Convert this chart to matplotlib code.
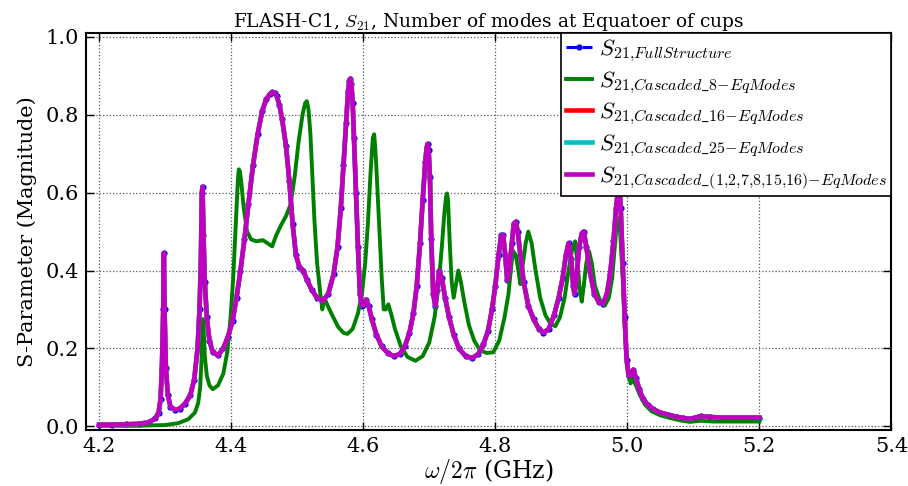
import matplotlib
matplotlib.use("Agg")
import matplotlib.pyplot as plt
import numpy as np

# ---------------- data ----------------
freq_full = [4.200, 4.220, 4.240, 4.260, 4.275, 4.285, 4.290, 4.293, 4.295, 4.297,
             4.298, 4.299, 4.301, 4.304, 4.308, 4.315, 4.322, 4.330, 4.338, 4.344,
             4.349, 4.352, 4.354, 4.3555, 4.3565, 4.358, 4.360, 4.363, 4.367, 4.372,
             4.380, 4.388, 4.395, 4.402, 4.408, 4.414, 4.420, 4.426, 4.433, 4.440,
             4.447, 4.453, 4.459, 4.4625, 4.466, 4.469, 4.473, 4.477, 4.483, 4.488,
             4.493, 4.498, 4.503, 4.509, 4.515, 4.522, 4.530, 4.539, 4.547, 4.555,
             4.561, 4.566, 4.570, 4.574, 4.577, 4.579, 4.5805, 4.582, 4.584, 4.586,
             4.589, 4.592, 4.595, 4.598, 4.601, 4.604, 4.608, 4.613, 4.620, 4.628,
             4.637, 4.646, 4.655, 4.663, 4.670, 4.676, 4.681, 4.686, 4.690, 4.694,
             4.696, 4.6975, 4.699, 4.701, 4.703, 4.706, 4.709, 4.712, 4.715, 4.719,
             4.724, 4.730, 4.737, 4.745, 4.755, 4.765, 4.774, 4.782, 4.789, 4.795,
             4.800, 4.805, 4.809, 4.812, 4.815, 4.818, 4.821, 4.825, 4.828, 4.831,
             4.834, 4.838, 4.843, 4.850, 4.858, 4.866, 4.873, 4.881, 4.889, 4.896,
             4.902, 4.907, 4.911, 4.915, 4.918, 4.920, 4.923, 4.927, 4.931, 4.934,
             4.938, 4.943, 4.950, 4.957, 4.963, 4.969, 4.974, 4.979, 4.983, 4.986,
             4.988, 4.990, 4.993, 4.996, 4.999, 5.002, 5.005, 5.009, 5.013, 5.018,
             5.024, 5.031, 5.039, 5.050, 5.061, 5.075, 5.085, 5.095, 5.103, 5.112,
             5.125, 5.140, 5.160, 5.180, 5.200]
s21_full = [0.004, 0.004, 0.005, 0.006, 0.010, 0.020, 0.035, 0.070, 0.150, 0.300,
            0.445, 0.300, 0.150, 0.080, 0.050, 0.042, 0.045, 0.058, 0.080, 0.120,
            0.200, 0.300, 0.420, 0.600, 0.615, 0.490, 0.370, 0.280, 0.220, 0.190,
            0.182, 0.200, 0.230, 0.270, 0.330, 0.400, 0.480, 0.570, 0.670, 0.750,
            0.810, 0.840, 0.854, 0.858, 0.856, 0.848, 0.825, 0.790, 0.720, 0.630,
            0.520, 0.440, 0.410, 0.400, 0.375, 0.350, 0.330, 0.322, 0.340, 0.390,
            0.460, 0.560, 0.670, 0.780, 0.860, 0.888, 0.893, 0.880, 0.830, 0.740,
            0.600, 0.460, 0.340, 0.310, 0.315, 0.325, 0.310, 0.275, 0.235, 0.205,
            0.188, 0.180, 0.185, 0.205, 0.240, 0.290, 0.360, 0.470, 0.580, 0.680,
            0.715, 0.725, 0.710, 0.640, 0.480, 0.340, 0.310, 0.350, 0.400, 0.380,
            0.330, 0.280, 0.235, 0.200, 0.180, 0.175, 0.185, 0.210, 0.245, 0.300,
            0.360, 0.440, 0.490, 0.490, 0.440, 0.375, 0.400, 0.470, 0.520, 0.525,
            0.500, 0.440, 0.370, 0.310, 0.275, 0.250, 0.240, 0.250, 0.285, 0.330,
            0.380, 0.440, 0.470, 0.430, 0.360, 0.340, 0.380, 0.460, 0.495, 0.500,
            0.460, 0.400, 0.340, 0.318, 0.315, 0.340, 0.390, 0.475, 0.560, 0.610,
            0.620, 0.560, 0.420, 0.280, 0.170, 0.130, 0.130, 0.145, 0.125, 0.095,
            0.070, 0.055, 0.044, 0.035, 0.030, 0.024, 0.021, 0.019, 0.022, 0.026,
            0.024, 0.022, 0.022, 0.022, 0.022]

freq_8 = [4.200, 4.250, 4.300, 4.320, 4.335, 4.345, 4.350, 4.353, 4.355, 4.3565,
          4.358, 4.360, 4.363, 4.367, 4.372, 4.380, 4.388, 4.394, 4.399, 4.403,
          4.407, 4.410, 4.4115, 4.413, 4.415, 4.419, 4.424, 4.430, 4.438, 4.448,
          4.455, 4.462, 4.468, 4.475, 4.483, 4.490, 4.496, 4.502, 4.508, 4.512,
          4.5145, 4.517, 4.520, 4.523, 4.526, 4.530, 4.535, 4.538, 4.541, 4.546,
          4.553, 4.562, 4.570, 4.576, 4.584, 4.592, 4.598, 4.603, 4.607, 4.611,
          4.6145, 4.6165, 4.618, 4.620, 4.624, 4.628, 4.631, 4.634, 4.638, 4.642,
          4.648, 4.657, 4.667, 4.679, 4.690, 4.700, 4.708, 4.714, 4.719, 4.723,
          4.7255, 4.727, 4.7285, 4.731, 4.734, 4.737, 4.740, 4.744, 4.748, 4.753,
          4.760, 4.768, 4.777, 4.787, 4.797, 4.806, 4.814, 4.820, 4.824, 4.827,
          4.831, 4.835, 4.838, 4.842, 4.846, 4.850, 4.855, 4.861, 4.868, 4.876,
          4.884, 4.891, 4.898, 4.905, 4.911, 4.916, 4.921, 4.925, 4.928, 4.931,
          4.934, 4.938, 4.942, 4.946, 4.951, 4.958, 4.966, 4.972, 4.977, 4.981,
          4.984, 4.986, 4.989, 4.993, 4.997, 5.001, 5.005, 5.009, 5.013, 5.019,
          5.027, 5.037, 5.050, 5.065, 5.080, 5.095, 5.110, 5.130, 5.160, 5.200]
s21_8 = [0.001, 0.001, 0.003, 0.008, 0.018, 0.035, 0.060, 0.100, 0.170, 0.275,
         0.260, 0.180, 0.130, 0.105, 0.095, 0.105, 0.135, 0.190, 0.280, 0.380,
         0.520, 0.630, 0.660, 0.655, 0.630, 0.560, 0.500, 0.480, 0.475, 0.478,
         0.470, 0.462, 0.490, 0.515, 0.540, 0.570, 0.640, 0.730, 0.800, 0.830,
         0.835, 0.815, 0.750, 0.640, 0.530, 0.420, 0.340, 0.300, 0.330, 0.310,
         0.285, 0.255, 0.240, 0.237, 0.250, 0.290, 0.340, 0.420, 0.520, 0.650,
         0.740, 0.750, 0.720, 0.660, 0.520, 0.380, 0.300, 0.300, 0.313, 0.290,
         0.250, 0.205, 0.178, 0.168, 0.180, 0.215, 0.280, 0.360, 0.460, 0.550,
         0.590, 0.598, 0.580, 0.470, 0.370, 0.330, 0.360, 0.400, 0.370, 0.320,
         0.260, 0.220, 0.195, 0.188, 0.190, 0.220, 0.280, 0.340, 0.410, 0.450,
         0.440, 0.400, 0.365, 0.420, 0.470, 0.500, 0.470, 0.400, 0.330, 0.285,
         0.262, 0.257, 0.280, 0.330, 0.400, 0.450, 0.475, 0.410, 0.350, 0.320,
         0.360, 0.420, 0.450, 0.420, 0.360, 0.325, 0.310, 0.330, 0.380, 0.460,
         0.520, 0.535, 0.500, 0.380, 0.220, 0.140, 0.110, 0.120, 0.105, 0.080,
         0.055, 0.038, 0.028, 0.021, 0.015, 0.011, 0.014, 0.012, 0.012, 0.012]

# 16, 25 and (1,2,7,8,15,16) mode cascades coincide with the full structure
s21_16 = list(s21_full)
s21_25 = list(s21_full)
s21_sel = list(s21_full)

labels = [r"$S_{21{,}FullStructure}$",
          r"$S_{21{,}Cascaded\_8{-}EqModes}$",
          r"$S_{21{,}Cascaded\_16{-}EqModes}$",
          r"$S_{21{,}Cascaded\_25{-}EqModes}$",
          r"$S_{21{,}Cascaded\_(1{,}2{,}7{,}8{,}15{,}16){-}EqModes}$"]
xticks = [4.2, 4.4, 4.6, 4.8, 5.0, 5.2, 5.4]
yticks = [0.0, 0.2, 0.4, 0.6, 0.8, 1.0]

# ---------------- style ----------------
plt.rcParams["font.family"] = ["DejaVu Serif"]
plt.rcParams["mathtext.fontset"] = "cm"

fig = plt.figure(figsize=(9.08, 4.86), dpi=100)
ax = fig.add_axes([0.0947, 0.115, 0.887, 0.817])

ax.plot(freq_full, s21_full, color="b", linestyle="--", linewidth=2.2,
        marker="o", markersize=4.5, markeredgewidth=0, label=labels[0])
ax.plot(freq_8, s21_8, color="g", linewidth=2.8, label=labels[1])
ax.plot(freq_full, s21_16, color="r", linewidth=3.3, label=labels[2])
ax.plot(freq_full, s21_25, color="c", linewidth=3.3, label=labels[3])
ax.plot(freq_full, s21_sel, color="m", linewidth=3.3, label=labels[4])

ax.set_xlim(4.18, 5.4)
ax.set_ylim(-0.01, 1.01)
ax.set_xticks(xticks)
ax.set_yticks(yticks)
ax.xaxis.set_major_formatter(matplotlib.ticker.FormatStrFormatter("%.1f"))
ax.yaxis.set_major_formatter(matplotlib.ticker.FormatStrFormatter("%.1f"))
ax.tick_params(direction="in", top=True, right=True, labelsize=15, length=6, width=1, pad=5)
ax.grid(True, color="0.35", linestyle=":", linewidth=0.9)
for sp in ax.spines.values():
    sp.set_linewidth(1.5)

ax.set_title(r"FLASH-C1, $S_{21}$, Number of modes at Equatoer of cups", fontsize=13.4, pad=4)
ax.set_xlabel(r"$\omega/2\pi$ (GHz)", fontsize=17, labelpad=1)
ax.set_ylabel("S-Parameter (Magnitude)", fontsize=15, labelpad=6)

leg = ax.legend(loc="upper right", fontsize=16.5, numpoints=1, borderaxespad=0,
                fancybox=False, framealpha=1, edgecolor="k", handlelength=1.15,
                handletextpad=0.3, labelspacing=0.22, borderpad=0.2)
leg.get_frame().set_linewidth(1.2)

fig.savefig("out.png", dpi=100)
